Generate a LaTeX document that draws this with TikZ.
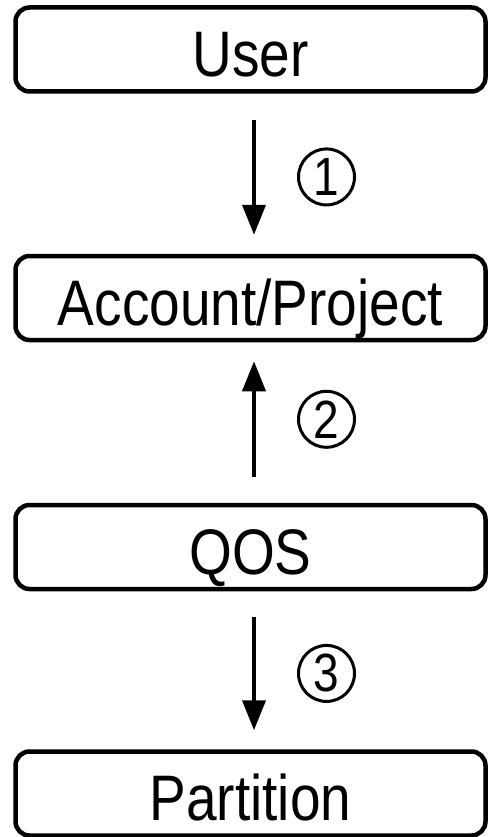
\documentclass[tikz,border=0pt]{standalone}
\usepackage{fontspec}
\usepackage{graphicx}
\setmainfont{Liberation Sans}
\usetikzlibrary{arrows.meta}
\tikzset{
  box/.style={draw, line width=4.5pt, rounded corners=14pt,
    minimum width=470pt, minimum height=84pt, inner sep=0pt,
    text height=54pt, text depth=0pt, font=\fontsize{55}{60}\selectfont},
  flow/.style={line width=4pt, -{Triangle[length=30pt,width=23pt]},
    shorten <=26pt, shorten >=19pt},
  num/.style={circle, draw, line width=3pt, minimum size=56pt,
    inner sep=0pt, font=\fontsize{46}{48}\selectfont}
}
\newcommand{\tall}[1]{\scalebox{1}[1.17]{#1}}

\begin{document}
\begin{tikzpicture}[x=1pt,y=1pt]
\useasboundingbox (0,0) rectangle (490,-837);
% the four levels
\node[box] (user) at (250.5,-49.5) {\tall{User}};
\node[box] (account) at (250.5,-298) {\tall{Account/Project}};
\node[box] (qos) at (250.5,-547) {\tall{QOS}};
\node[box] (partition) at (250.5,-793.5) {\tall{Partition}};
% steps
\draw[flow] ([xshift=3.5pt]user.south) -- ([xshift=3.5pt]account.north)
  node[num, pos=0.52, xshift=72.5pt] (one) {\tall{1}};
\draw[flow] ([xshift=3.5pt]qos.north) -- ([xshift=3.5pt]account.south)
  node[num, pos=0.52, xshift=72.5pt] (two) {\tall{2}};
\draw[flow] ([xshift=3.5pt]qos.south) -- ([xshift=3.5pt]partition.north)
  node[num, pos=0.52, xshift=72.5pt] (three) {\tall{3}};
\end{tikzpicture}
\end{document}
